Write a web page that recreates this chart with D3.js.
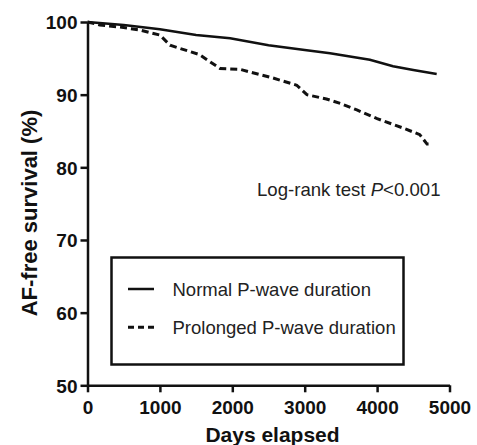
<!DOCTYPE html>
<html>
<head>
<meta charset="utf-8">
<script src="https://cdn.jsdelivr.net/npm/d3@7"></script>
<style>
  body { margin: 0; background: #fff; }
  svg { display: block; font-family: Arial, "Liberation Sans", Helvetica, sans-serif; }
</style>
</head>
<body>
<div id="chart"></div>
<script>
// survival curves
var normalDays = [0, 500, 1000, 1500, 1970, 2500, 3000, 3350, 3900, 4220, 4500, 4823];
var normalSurv = [100, 99.6, 99.0, 98.2, 97.75, 96.8, 96.15, 95.7, 94.8, 93.9, 93.4, 92.85];

var prolongedDays = [0, 170, 450, 725, 1000, 1140, 1550, 1830, 2100, 2560, 2890, 3030, 3300, 3490, 3720, 4000, 4360, 4590, 4690, 4730];
var prolongedSurv = [100, 99.6, 99.3, 98.9, 98.2, 96.8, 95.5, 93.6, 93.5, 92.3, 91.3, 90.0, 89.4, 88.8, 87.9, 86.7, 85.4, 84.5, 83.2, 83.2];

var xTicks = [0, 1000, 2000, 3000, 4000, 5000];
var yTicks = [50, 60, 70, 80, 90, 100];
var legendLabels = ["Normal P-wave duration", "Prolonged P-wave duration"];

var width = 477, height = 445;

var svg = d3.select("#chart").append("svg")
    .attr("width", width)
    .attr("height", height);

var x = d3.scaleLinear().domain([0, 5000]).range([87.5, 449.5]);
var y = d3.scaleLinear().domain([50, 100]).range([385.3, 22]);

// axes
var xAxis = svg.append("g")
    .attr("transform", "translate(0," + y(50) + ")")
    .call(d3.axisBottom(x).tickValues(xTicks).tickFormat(d3.format("d"))
        .tickSize(7).tickPadding(8).tickSizeOuter(0));
var yAxis = svg.append("g")
    .attr("transform", "translate(" + x(0) + ",0)")
    .call(d3.axisLeft(y).tickValues(yTicks).tickFormat(d3.format("d"))
        .tickSize(7).tickPadding(3).tickSizeOuter(0));

[xAxis, yAxis].forEach(function(g) {
    g.select(".domain").attr("stroke", "#111").attr("stroke-width", 2.5);
    g.selectAll(".tick line").attr("stroke", "#111").attr("stroke-width", 2.5);
    g.selectAll(".tick text")
        .attr("fill", "#111")
        .style("font-size", "19px")
        .style("font-weight", "bold");
});
yAxis.selectAll(".tick text").attr("dy", "0.36em");

// axis titles
svg.append("text")
    .attr("x", (x(0) + x(5000)) / 2 + 4)
    .attr("y", 442)
    .attr("text-anchor", "middle")
    .attr("fill", "#111")
    .style("font-size", "21px")
    .style("font-weight", "bold")
    .text("Days elapsed");

svg.append("text")
    .attr("transform", "translate(37,213) rotate(-90)")
    .attr("text-anchor", "middle")
    .attr("fill", "#111")
    .style("font-size", "22px")
    .style("font-weight", "bold")
    .text("AF-free survival (%)");

// curves
var line = d3.line()
    .x(function(d) { return x(d[0]); })
    .y(function(d) { return y(d[1]); });

svg.append("path")
    .datum(d3.zip(normalDays, normalSurv))
    .attr("d", line)
    .attr("fill", "none")
    .attr("stroke", "#111")
    .attr("stroke-width", 2.5);

svg.append("path")
    .datum(d3.zip(prolongedDays, prolongedSurv))
    .attr("d", line)
    .attr("fill", "none")
    .attr("stroke", "#111")
    .attr("stroke-width", 3)
    .attr("stroke-dasharray", "7,4");

// p-value note
var note = svg.append("text")
    .attr("x", 257)
    .attr("y", 196)
    .attr("fill", "#222")
    .style("font-size", "18.6px");
note.append("tspan").text("Log-rank test ");
note.append("tspan").style("font-style", "italic").text("P");
note.append("tspan").text("<0.001");

// legend
var legend = svg.append("g");
legend.append("rect")
    .attr("x", 111.5).attr("y", 257.5)
    .attr("width", 292).attr("height", 107)
    .attr("fill", "#fff")
    .attr("stroke", "#111")
    .attr("stroke-width", 2.5);

legendLabels.forEach(function(label, i) {
    var ly = 289 + i * 38.3;
    legend.append("line")
        .attr("x1", 128).attr("x2", 154)
        .attr("y1", ly).attr("y2", ly)
        .attr("stroke", "#111")
        .attr("stroke-width", i === 0 ? 2.5 : 3)
        .attr("stroke-dasharray", i === 0 ? null : "6,4");
    legend.append("text")
        .attr("x", 172.5)
        .attr("y", ly + 6.5)
        .attr("fill", "#222")
        .style("font-size", "18.5px")
        .text(label);
});
</script>
</body>
</html>
